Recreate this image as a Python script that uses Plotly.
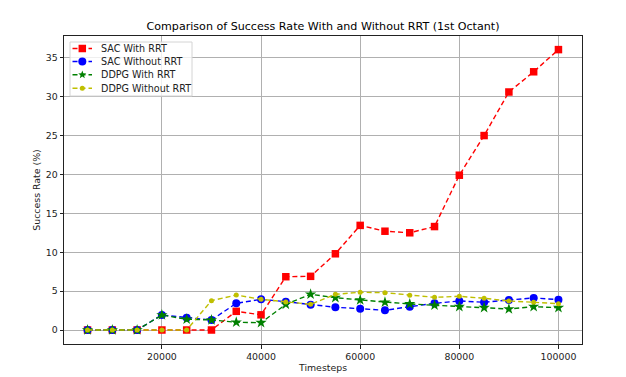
import math
import plotly.graph_objects as go

timesteps = [5000, 10000, 15000, 20000, 25000, 30000, 35000, 40000, 45000, 50000,
             55000, 60000, 65000, 70000, 75000, 80000, 85000, 90000, 95000, 100000]
sac_with_rrt = [0, 0, 0, 0, 0, 0, 2.4, 1.95, 6.85, 6.9, 9.8, 13.45, 12.7, 12.5, 13.3, 19.9, 25.0, 30.6, 33.2, 36.05]
sac_without_rrt = [0, 0, 0, 1.93, 1.58, 1.29, 3.43, 3.95, 3.64, 3.26, 2.92, 2.74, 2.53, 3.0, 3.43, 3.73, 3.56, 3.86, 4.12, 3.9]
ddpg_with_rrt = [0, 0, 0, 1.93, 1.38, 1.29, 0.99, 0.94, 3.3, 4.59, 4.16, 3.86, 3.56, 3.35, 3.18, 3.0, 2.87, 2.7, 3.0, 2.87]
ddpg_without_rrt = [0, 0, 0, 0, 0, 3.77, 4.5, 3.95, 3.6, 3.3, 4.59, 4.85, 4.8, 4.46, 4.2, 4.33, 4.08, 3.73, 3.56, 3.39]
series_names = ["SAC With RRT", "SAC Without RRT", "DDPG With RRT", "DDPG Without RRT"]

styles = [
    ("#ff0000", "square", 7.5),
    ("#0000ff", "circle", 8),
    ("#008000", "star", 8.5),
    ("#bfbf00", "circle", 5),
]
values = [sac_with_rrt, sac_without_rrt, ddpg_with_rrt, ddpg_without_rrt]

X_RANGE = [250, 104750]
Y_RANGE = [-1.8, 37.8]

fig = go.Figure()
for name, vals, (color, sym, size) in zip(series_names, values, styles):
    fig.add_trace(go.Scatter(
        x=timesteps, y=vals, name=name, mode="lines+markers", showlegend=False,
        line=dict(color=color, width=1.4, dash="5px,3px"),
        marker=dict(color=color, symbol=sym, size=size, line=dict(width=0)),
    ))

# Plot area in pixels (for placing the compact matplotlib-style legend)
PX0, PX1, PY0, PY1 = 64, 582, 36, 344
def dx(px):
    return (px - PX0) / (PX1 - PX0)
def dy(py):
    return 1 - (py - PY0) / (PY1 - PY0)
def lx(px):
    return X_RANGE[0] + dx(px) * (X_RANGE[1] - X_RANGE[0])
def ly(py):
    return Y_RANGE[0] + dy(py) * (Y_RANGE[1] - Y_RANGE[0])

leg_x0, leg_x1, leg_top, leg_bot = 70, 192, 42, 96
row_y = [48.5, 61.5, 74.8, 88.2]
mx = 82.3
fig.add_shape(type="rect", xref="x", yref="y",
              x0=lx(leg_x0), x1=lx(leg_x1), y0=ly(leg_bot), y1=ly(leg_top),
              fillcolor="rgba(255,255,255,0.8)", line=dict(color="#d4d4d4", width=1),
              layer="above")
for name, (color, sym, size), yc in zip(series_names, styles, row_y):
    fig.add_shape(type="line", xref="x", yref="y", x0=lx(72.5), x1=lx(92), y0=ly(yc), y1=ly(yc),
                  line=dict(color=color, width=1.4, dash="5px,3px"), layer="above")
    r = size / 2
    if sym == "square":
        fig.add_shape(type="rect", xref="x", yref="y", x0=lx(mx - r), x1=lx(mx + r),
                      y0=ly(yc + r), y1=ly(yc - r), fillcolor=color, line=dict(width=0),
                      layer="above")
    elif sym == "circle":
        fig.add_shape(type="circle", xref="x", yref="y", x0=lx(mx - r), x1=lx(mx + r),
                      y0=ly(yc + r), y1=ly(yc - r), fillcolor=color, line=dict(width=0),
                      layer="above")
    else:
        pts = []
        for k in range(10):
            rad = r if k % 2 == 0 else r * 0.42
            ang = -math.pi / 2 + k * math.pi / 5
            pts.append((lx(mx + rad * math.cos(ang)), ly(yc + rad * math.sin(ang))))
        path = "M " + " L ".join(f"{px},{py}" for px, py in pts) + " Z"
        fig.add_shape(type="path", xref="x", yref="y", path=path, fillcolor=color,
                      line=dict(width=0), layer="above")
    fig.add_annotation(x=dx(99), y=dy(yc), xref="x domain", yref="y domain", text=name,
                       showarrow=False, xanchor="left", yanchor="middle",
                       font=dict(size=9.6, color="#222"))

axis_common = dict(
    showline=True, linecolor="#222", linewidth=1, mirror=True,
    showgrid=True, gridcolor="#b0b0b0", gridwidth=1,
    ticks="outside", ticklen=3.5, tickcolor="#222",
    tickfont=dict(size=9.4, color="#222"), zeroline=False, automargin=False,
)

fig.update_layout(
    width=618, height=369,
    margin=dict(l=56, r=44, t=28, b=33),
    paper_bgcolor="white", plot_bgcolor="white",
    font=dict(family="DejaVu Sans", color="#222"),
    title=dict(text="Comparison of Success Rate With and Without RRT (1st Octant)",
               x=0.5, xanchor="center", y=0.952, yanchor="middle",
               xref="paper", font=dict(size=11.1, color="black")),
    xaxis=dict(range=X_RANGE, tickvals=[20000, 40000, 60000, 80000, 100000],
               ticktext=["20000", "40000", "60000", "80000", "100000"],
               title=dict(text="Timesteps", font=dict(size=9.4), standoff=0), **axis_common),
    yaxis=dict(range=Y_RANGE, tickvals=[0, 5, 10, 15, 20, 25, 30, 35],
               title=dict(text="Success Rate (%)", font=dict(size=9.4), standoff=3), **axis_common),
    showlegend=False,
)

fig.write_html("out.html")
